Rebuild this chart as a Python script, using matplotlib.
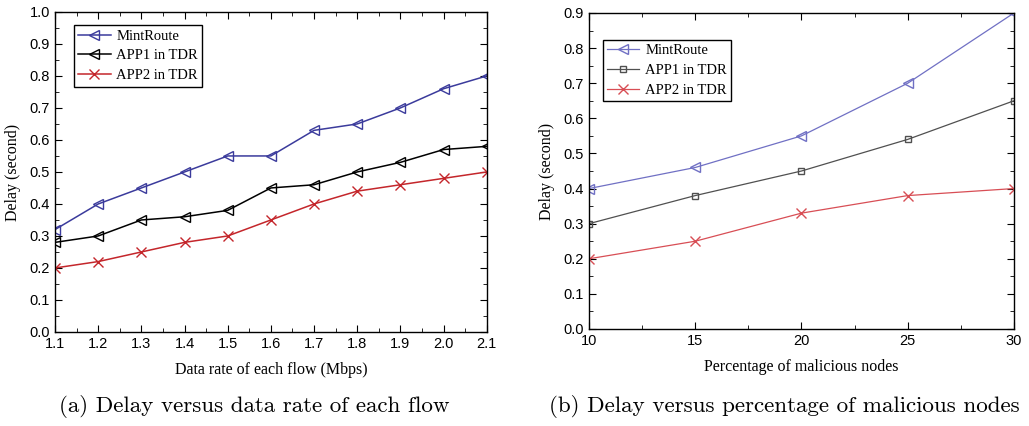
import matplotlib
matplotlib.use("Agg")
import matplotlib.pyplot as plt
from matplotlib.ticker import MultipleLocator

# (a) delay vs data rate
rate = [1.1, 1.2, 1.3, 1.4, 1.5, 1.6, 1.7, 1.8, 1.9, 2.0, 2.1]
mint_a = [0.32, 0.40, 0.45, 0.50, 0.55, 0.55, 0.63, 0.65, 0.70, 0.76, 0.80]
app1_a = [0.28, 0.30, 0.35, 0.36, 0.38, 0.45, 0.46, 0.50, 0.53, 0.57, 0.58]
app2_a = [0.20, 0.22, 0.25, 0.28, 0.30, 0.35, 0.40, 0.44, 0.46, 0.48, 0.50]

# (b) delay vs percentage of malicious nodes
pct = [10, 15, 20, 25, 30]
mint_b = [0.40, 0.46, 0.55, 0.70, 0.90]
app1_b = [0.30, 0.38, 0.45, 0.54, 0.65]
app2_b = [0.20, 0.25, 0.33, 0.38, 0.40]

labels = ["MintRoute", "APP1 in TDR", "APP2 in TDR"]

fig = plt.figure(figsize=(10.29, 4.26), dpi=100)
ax1 = fig.add_axes([0.0535, 0.2207, 0.4195, 0.7513])
ax2 = fig.add_axes([0.5724, 0.2277, 0.413, 0.7418])

tick_font = "Liberation Sans"
label_font = "Liberation Serif"


def style_axes(ax):
    ax.tick_params(which="both", direction="in", top=True, right=True,
                   labelsize=10.5)
    ax.tick_params(which="major", length=5)
    ax.tick_params(which="minor", length=3)
    for lab in ax.get_xticklabels() + ax.get_yticklabels():
        lab.set_fontfamily(tick_font)
    for sp in ax.spines.values():
        sp.set_linewidth(1.0)


leg_kw = dict(loc="upper left", prop={"family": label_font, "size": 10.5},
              fancybox=False, edgecolor="black", framealpha=1, handlelength=2.2,
              borderpad=0.3, labelspacing=0.45, handletextpad=0.4, borderaxespad=0)

# left panel
ax1.plot(rate, mint_a, color="#3b3b9c", marker="<", mfc="none", ms=7, lw=1.1, label=labels[0])
ax1.plot(rate, app1_a, color="black", marker="<", mfc="none", ms=7, lw=1.1, label=labels[1])
ax1.plot(rate, app2_a, color="#c4262b", marker="x", ms=6.5, lw=1.1, label=labels[2])
ax1.set_xlim(1.1, 2.1)
ax1.set_ylim(0, 1.0)
ax1.xaxis.set_major_locator(MultipleLocator(0.1))
ax1.xaxis.set_minor_locator(MultipleLocator(0.05))
ax1.yaxis.set_major_locator(MultipleLocator(0.1))
ax1.yaxis.set_minor_locator(MultipleLocator(0.05))
ax1.xaxis.set_major_formatter(lambda v, p: f"{v:.1f}")
ax1.yaxis.set_major_formatter(lambda v, p: f"{v:.1f}")
style_axes(ax1)
ax1.set_xlabel("Data rate of each flow (Mbps)", fontfamily=label_font, fontsize=11.5, labelpad=8)
ax1.set_ylabel("Delay (second)", fontfamily=label_font, fontsize=11.5, labelpad=6)
ax1.legend(bbox_to_anchor=(0.044, 0.959), **leg_kw)

# right panel
ax2.plot(pct, mint_b, color="#7070c4", marker="<", mfc="none", ms=7, lw=0.9, label=labels[0])
ax2.plot(pct, app1_b, color="#505050", marker="s", mfc="none", ms=5, lw=0.9, label=labels[1])
ax2.plot(pct, app2_b, color="#d84e55", marker="x", ms=6.5, lw=0.9, label=labels[2])
ax2.set_xlim(10, 30)
ax2.set_ylim(0, 0.9)
ax2.xaxis.set_major_locator(MultipleLocator(5))
ax2.xaxis.set_minor_locator(MultipleLocator(2.5))
ax2.yaxis.set_major_locator(MultipleLocator(0.1))
ax2.yaxis.set_minor_locator(MultipleLocator(0.05))
ax2.yaxis.set_major_formatter(lambda v, p: f"{v:.1f}")
style_axes(ax2)
ax2.set_xlabel("Percentage of malicious nodes", fontfamily=label_font, fontsize=11.5, labelpad=8)
ax2.set_ylabel("Delay (second)", fontfamily=label_font, fontsize=11.5, labelpad=6)
ax2.legend(bbox_to_anchor=(0.033, 0.915), **leg_kw)

# captions
fig.text(0.247, 0.045, "(a) Delay versus data rate of each flow", ha="center", va="center",
         fontfamily="cmr10", fontsize=16.6)
fig.text(0.762, 0.045, "(b) Delay versus percentage of malicious nodes", ha="center", va="center",
         fontfamily="cmr10", fontsize=16.6)

fig.savefig("out.png", dpi=100)
